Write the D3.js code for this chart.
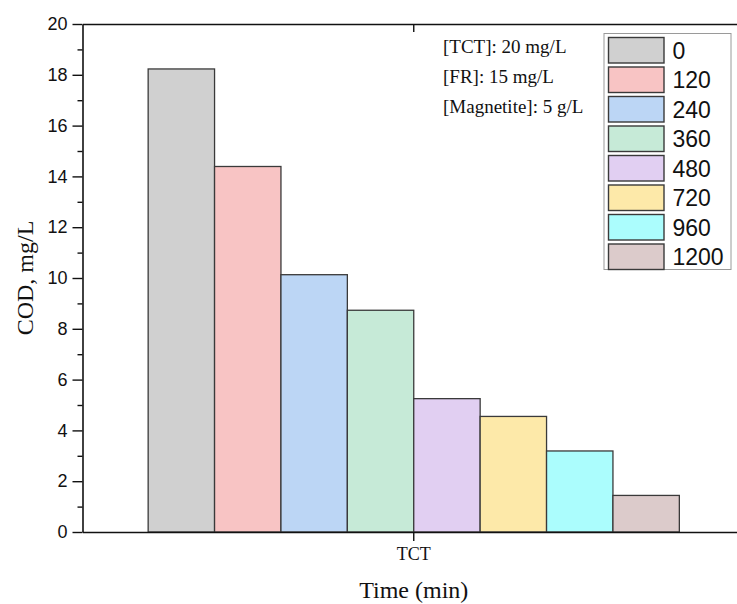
<!DOCTYPE html>
<html>
<head>
<meta charset="utf-8">
<script src="https://cdn.jsdelivr.net/npm/d3@7"></script>
<style>
  html, body { margin: 0; padding: 0; background: #fff; }
  svg { display: block; }
</style>
</head>
<body>
<div id="chart"></div>
<script>
// data
const categories = ["TCT"];
const times = ["0", "120", "240", "360", "480", "720", "960", "1200"];
const cod = [18.23, 14.39, 10.13, 8.73, 5.25, 4.55, 3.19, 1.44];
const colors = ["#d0d0d0", "#f8c4c4", "#bcd6f5", "#c6ead7", "#e1cff2", "#fde9a9", "#abfdfd", "#dccbcb"];
const yTicks = [0, 2, 4, 6, 8, 10, 12, 14, 16, 18, 20];
const notes = ["[TCT]: 20 mg/L", "[FR]: 15 mg/L", "[Magnetite]: 5 g/L"];

const W = 737, H = 604;
const margin = { top: 24, right: -8, bottom: 72, left: 82.5 };
const width = W - margin.left - margin.right;
const height = H - margin.top - margin.bottom;

const svg = d3.select("#chart").append("svg")
  .attr("width", W)
  .attr("height", H);

const g = svg.append("g")
  .attr("transform", `translate(${margin.left},${margin.top})`);

const x0 = d3.scaleBand().domain(categories).range([0, width]).padding(0.11);
const x1 = d3.scaleBand().domain(times).range([0, x0.bandwidth()]);
const y = d3.scaleLinear().domain([0, 20]).range([height, 0]);

// bars
g.append("g")
  .selectAll("g")
  .data(categories)
  .join("g")
  .attr("transform", (d) => `translate(${x0(d)},0)`)
  .selectAll("rect")
  .data(times.map((t, i) => ({ t, v: cod[i], c: colors[i] })))
  .join("rect")
  .attr("x", (d) => x1(d.t))
  .attr("y", (d) => y(d.v))
  .attr("width", x1.bandwidth())
  .attr("height", (d) => height - y(d.v))
  .attr("fill", (d) => d.c)
  .attr("stroke", "#3a3a3a")
  .attr("stroke-width", 1.3);

const minor = d3.range(1, 20, 2);
const axisStyle = (sel) => {
  sel.select(".domain").attr("stroke", "#111").attr("stroke-width", 1.6);
  sel.selectAll(".tick line").attr("stroke", "#111").attr("stroke-width", 1.4);
};

// left axis
g.append("g")
  .call(d3.axisLeft(y).tickValues(yTicks).tickSize(10).tickSizeOuter(0).tickPadding(5))
  .call(axisStyle)
  .call((s) => s.selectAll("text")
    .attr("font-family", "Liberation Sans, Arial, sans-serif")
    .attr("font-size", 18)
    .attr("fill", "#111"));
g.append("g")
  .call(d3.axisLeft(y).tickValues(minor).tickSize(5).tickFormat(""))
  .call(axisStyle)
  .call((s) => s.select(".domain").remove());

// right axis (mostly off the canvas)
g.append("g")
  .attr("transform", `translate(${width},0)`)
  .call(d3.axisLeft(y).tickValues(yTicks).tickSize(-8).tickSizeOuter(0).tickFormat(""))
  .call(axisStyle);

// bottom axis
g.append("g")
  .attr("transform", `translate(0,${height})`)
  .call(d3.axisBottom(x0).tickSize(9).tickSizeOuter(0).tickPadding(6))
  .call(axisStyle)
  .call((s) => s.selectAll("text")
    .attr("font-family", "Liberation Serif, Times New Roman, serif")
    .attr("font-size", 18)
    .attr("fill", "#111"));

// top frame
g.append("g")
  .call(d3.axisBottom(x0).tickSize(8).tickSizeOuter(0).tickFormat(""))
  .call(axisStyle);

// axis titles
svg.append("text")
  .attr("transform", `translate(33,${margin.top + height / 2}) rotate(-90)`)
  .attr("text-anchor", "middle")
  .attr("font-family", "Liberation Serif, Times New Roman, serif")
  .attr("font-size", 24)
  .attr("fill", "#111")
  .text("COD, mg/L");

svg.append("text")
  .attr("x", margin.left + x0(categories[0]) + x0.bandwidth() / 2)
  .attr("y", 598)
  .attr("text-anchor", "middle")
  .attr("font-family", "Liberation Serif, Times New Roman, serif")
  .attr("font-size", 24)
  .attr("fill", "#111")
  .text("Time (min)");

// conditions note
svg.append("g")
  .selectAll("text")
  .data(notes)
  .join("text")
  .attr("x", 443)
  .attr("y", (d, i) => 53 + i * 30)
  .attr("font-family", "Liberation Serif, Times New Roman, serif")
  .attr("font-size", 19)
  .attr("fill", "#111")
  .text((d) => d);

// legend
const legend = svg.append("g").attr("transform", "translate(604,33.5)");
legend.append("rect")
  .attr("width", 127)
  .attr("height", 236)
  .attr("fill", "#fff")
  .attr("stroke", "#9a9a9a")
  .attr("stroke-width", 1);
const item = legend.selectAll(".item")
  .data(times)
  .join("g")
  .attr("class", "item")
  .attr("transform", (d, i) => `translate(4.5,${4 + i * 29.5})`);
item.append("rect")
  .attr("width", 55.5)
  .attr("height", 25.5)
  .attr("fill", (d, i) => colors[i])
  .attr("stroke", "#3a3a3a")
  .attr("stroke-width", 1.4);
item.append("text")
  .attr("x", 64)
  .attr("y", 21)
  .attr("font-family", "Liberation Sans, Arial, sans-serif")
  .attr("font-size", 23)
  .attr("fill", "#111")
  .text((d) => d);
</script>
</body>
</html>
